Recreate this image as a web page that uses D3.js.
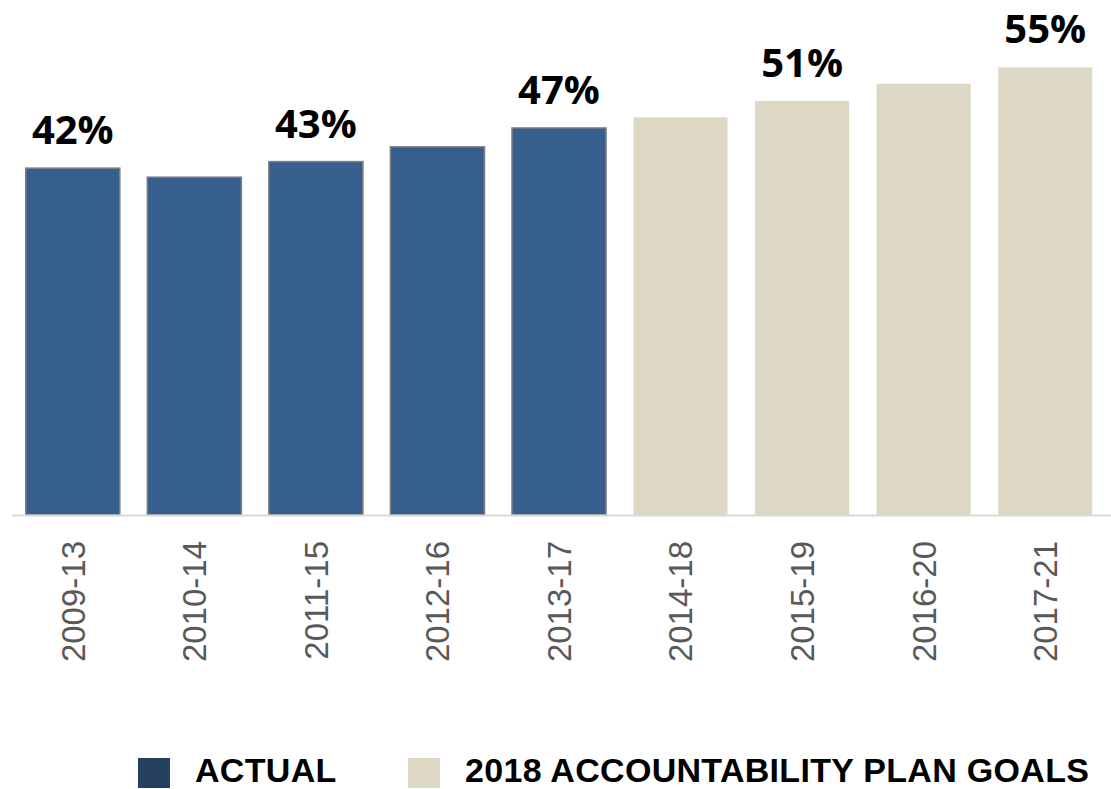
<!DOCTYPE html>
<html><head><meta charset="utf-8">
<script src="https://cdn.jsdelivr.net/npm/d3@7"></script>
<style>body{margin:0;background:#fff;}svg{display:block;}</style>
</head><body>
<svg id="chart" width="1111" height="789"></svg>
<script>
const categories = ["2009-13","2010-14","2011-15","2012-16","2013-17","2014-18","2015-19","2016-20","2017-21"];
const values = [42.3, 41.2, 43.1, 44.9, 47.2, 48.5, 50.5, 52.6, 54.6];
const series = ["actual","actual","actual","actual","actual","goal","goal","goal","goal"];
const valueLabels = ["42%","","43%","","47%","","51%","","55%"];
const legendLabels = ["ACTUAL","2018 ACCOUNTABILITY PLAN GOALS"];

const svg = d3.select("#chart");
const x = d3.scaleBand().domain(categories).range([12, 1106]).paddingInner(0.226).paddingOuter(0.113);
const y = d3.scaleLinear().domain([0, 60]).range([515, 23]);
const fill = {actual: "#365f8e", goal: "#ddd8c3"};

svg.selectAll("rect.bar").data(categories).join("rect")
  .attr("class","bar")
  .attr("x", d => x(d))
  .attr("y", (d,i) => y(values[i]))
  .attr("width", x.bandwidth())
  .attr("height", (d,i) => y(0) - y(values[i]))
  .attr("fill", (d,i) => fill[series[i]])
  .attr("stroke", (d,i) => series[i] === "actual" ? "#7f7f7f" : "none")
  .attr("stroke-width", 1.5);

// baseline
svg.append("line").attr("x1", 12).attr("x2", 1111).attr("y1", y(0)+0.5).attr("y2", y(0)+0.5)
  .attr("stroke", "#d9d9d9").attr("stroke-width", 2);

// x axis labels
const xAxis = d3.axisBottom(x).tickSize(0).tickPadding(0);
const gx = svg.append("g").attr("transform", `translate(0,${y(0)})`).call(xAxis);
gx.select(".domain").remove();
gx.selectAll("text")
  .attr("transform", "rotate(-90)")
  .attr("x", -26).attr("y", 0).attr("dy", "0.36em")
  .style("text-anchor", "end")
  .attr("font-family", "Liberation Sans, Arial, sans-serif")
  .attr("font-size", 33).attr("fill", "#595959");

// value labels
svg.selectAll("text.val").data(categories).join("text")
  .attr("class","val")
  .attr("x", d => x(d) + x.bandwidth()/2)
  .attr("y", (d,i) => y(values[i]) - 24)
  .attr("text-anchor", "middle")
  .attr("font-family", "Open Sans, sans-serif").attr("font-weight", "bold")
  .attr("font-size", 40).attr("fill", "#000")
  .text((d,i) => valueLabels[i]);

// legend
const legendX = [138, 408];
const legendFill = ["#264062", "#ddd8c3"];
const lg = svg.append("g");
legendLabels.forEach((t, i) => {
  lg.append("rect").attr("x", legendX[i]).attr("y", 758).attr("width", 32).attr("height", 30).attr("fill", legendFill[i]);
  lg.append("text").attr("x", legendX[i] + 57).attr("y", 781.5)
    .attr("font-family", "Liberation Sans, Arial, sans-serif").attr("font-weight", "bold")
    .attr("font-size", 34).attr("letter-spacing", 0.3).attr("fill", "#000").text(t);
});
</script>
</body></html>
